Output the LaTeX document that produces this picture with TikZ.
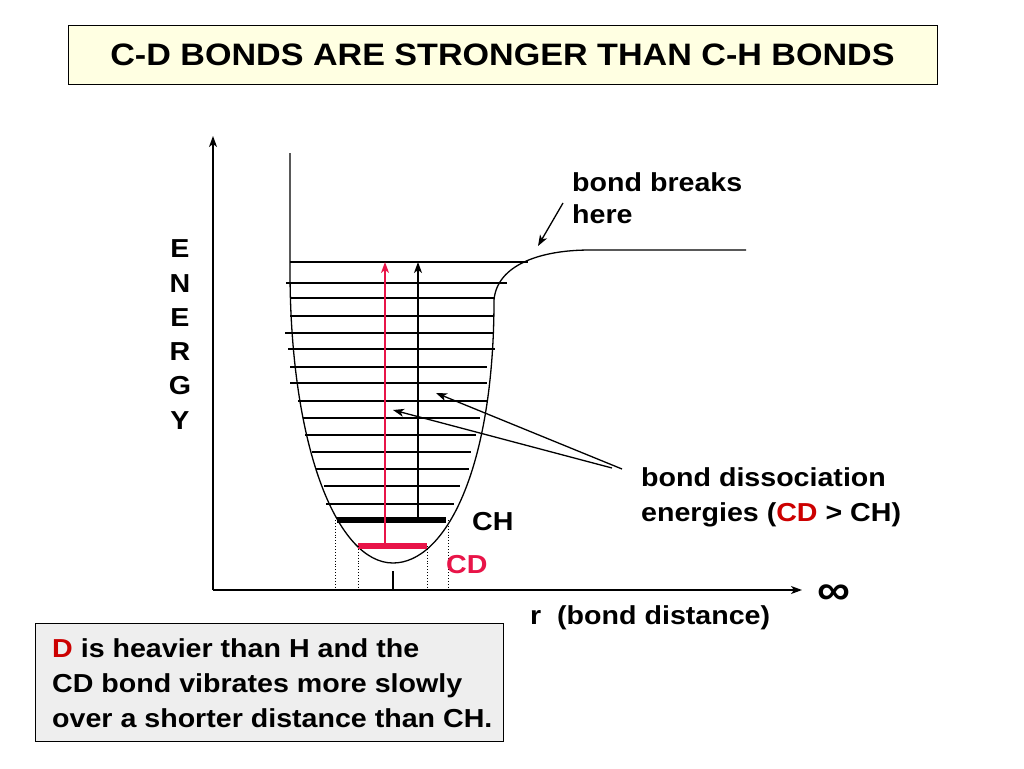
\documentclass[tikz,border=0pt]{standalone}
\usepackage{fontspec}
\setmainfont{Liberation Sans}[FakeStretch=1.1]
\usepackage{tikz}
\usetikzlibrary{arrows.meta,positioning,calc}
\definecolor{cdred}{RGB}{232,20,72}
\definecolor{dred}{RGB}{204,0,0}
\definecolor{titlefill}{RGB}{255,255,226}
\definecolor{notefill}{RGB}{238,238,238}
\tikzset{
	lbl/.style={font=\fontsize{26}{32}\selectfont\bfseries, inner sep=0pt},
	level/.style={line width=1.3pt},
	bar/.style={line width=6pt},
	guide/.style={dotted, line width=0.9pt},
	tip/.style={-{Stealth[length=11pt,width=8pt,inset=3pt]}},
}

\begin{document}
\begin{tikzpicture}[x=1pt,y=-1pt]
		\useasboundingbox (0,0) rectangle (1024,768);

		% boxes
		\node[draw, fill=titlefill, line width=1pt, minimum width=869pt, minimum height=58pt, font=\fontsize{31}{36}\selectfont\bfseries] (title) at (502.5,55) {C-D BONDS ARE STRONGER THAN C-H BONDS};
		\node[draw, fill=notefill, line width=1pt, anchor=north west, minimum width=468pt, minimum height=118pt] (note) at (35,623) {};
		\node[lbl, anchor=west, align=left, font=\fontsize{26}{35}\selectfont\bfseries] (notetext) at (52,683) {\textcolor{dred}{D} is heavier than H and the\\CD bond vibrates more slowly\\over a shorter distance than CH.};

		% axes
		\coordinate (O) at (213,590);
		\coordinate (Ytop) at (213,136);
		\coordinate (Xend) at (802,590);
		\draw[tip, level] (O) -- (Ytop);
		\draw[tip, level] (O) -- (Xend);
		\node[lbl, align=center, font=\fontsize{26}{34.3}\selectfont\bfseries] (energy) at (180,334.5) {E\\N\\E\\R\\G\\Y};
		\node[lbl, font=\fontsize{42}{42}\selectfont\bfseries] (inf) at (834,595) {∞};
		\node[lbl, anchor=west] (rlabel) at (530,618) {r~~(bond distance)};

		% potential curve
		\draw[level] (290,153) -- (290,275) .. controls (291,450) and (338,563) .. (393,563) .. controls (445,563) and (494,470) .. (494,300) .. controls (497,265) and (540,250) .. (590,250) -- (746,250);

		% levels
		\draw[level] (290,262) -- (528,262);
		\draw[level] (286,283) -- (507,283);
		\draw[level] (290,298) -- (494,298);
		\draw[level] (290,316) -- (494,316);
		\draw[level] (285,333) -- (494,333);
		\draw[level] (288,349) -- (495,349);
		\draw[level] (290,367) -- (487,367);
		\draw[level] (290,383) -- (487,383);
		\draw[level] (298,401) -- (487,401);
		\draw[level] (303,418) -- (480,418);
		\draw[level] (305,435) -- (476,435);
		\draw[level] (312,452) -- (471,452);
		\draw[level] (316,469) -- (469,469);
		\draw[level] (324,486) -- (460,486);
		\draw[level] (326,504) -- (454,504);
		\draw[bar] (337,520) -- (446,520);
		\draw[bar, cdred] (358,546) -- (427,546);

		% guides
		\draw[guide] (335,520) -- (335,590);
		\draw[guide] (448,520) -- (448,590);
		\draw[guide] (358,546) -- (358,590);
		\draw[guide] (427,546) -- (427,590);
		\draw[level] (393,571) -- (393,590);

		% dissociation arrows
		\coordinate (cdlow) at (385,543);
		\coordinate (cdtop) at (385,262);
		\coordinate (chlow) at (418,517);
		\coordinate (chtop) at (418,262);
		\draw[tip, level, cdred] (cdlow) -- (cdtop);
		\draw[tip, level] (chlow) -- (chtop);

		\node[lbl, anchor=west] (ch) at (472,522) {CH};
		\node[lbl, anchor=west, text=cdred] (cd) at (446,565) {CD};

		% labels with pointers
		\node[lbl, anchor=west, align=left] (breaks) at (572,198) {bond breaks\\here};
		\coordinate (bstart) at (563,203);
		\coordinate (bend) at (538,246);
		\draw[tip, level] (bstart) -- (bend);

		\node[lbl, anchor=west, align=left, font=\fontsize{26}{35}\selectfont\bfseries] (bde) at (641,497.5) {bond dissociation\\energies (\textcolor{dred}{CD} > CH)};
		\coordinate (p1) at (612,468);
		\coordinate (p2) at (622,469);
		\coordinate (t1) at (393,410);
		\coordinate (t2) at (436,393);
		\draw[tip, level] (p1) -- (t1);
		\draw[tip, level] (p2) -- (t2);
	\end{tikzpicture}
\end{document}
